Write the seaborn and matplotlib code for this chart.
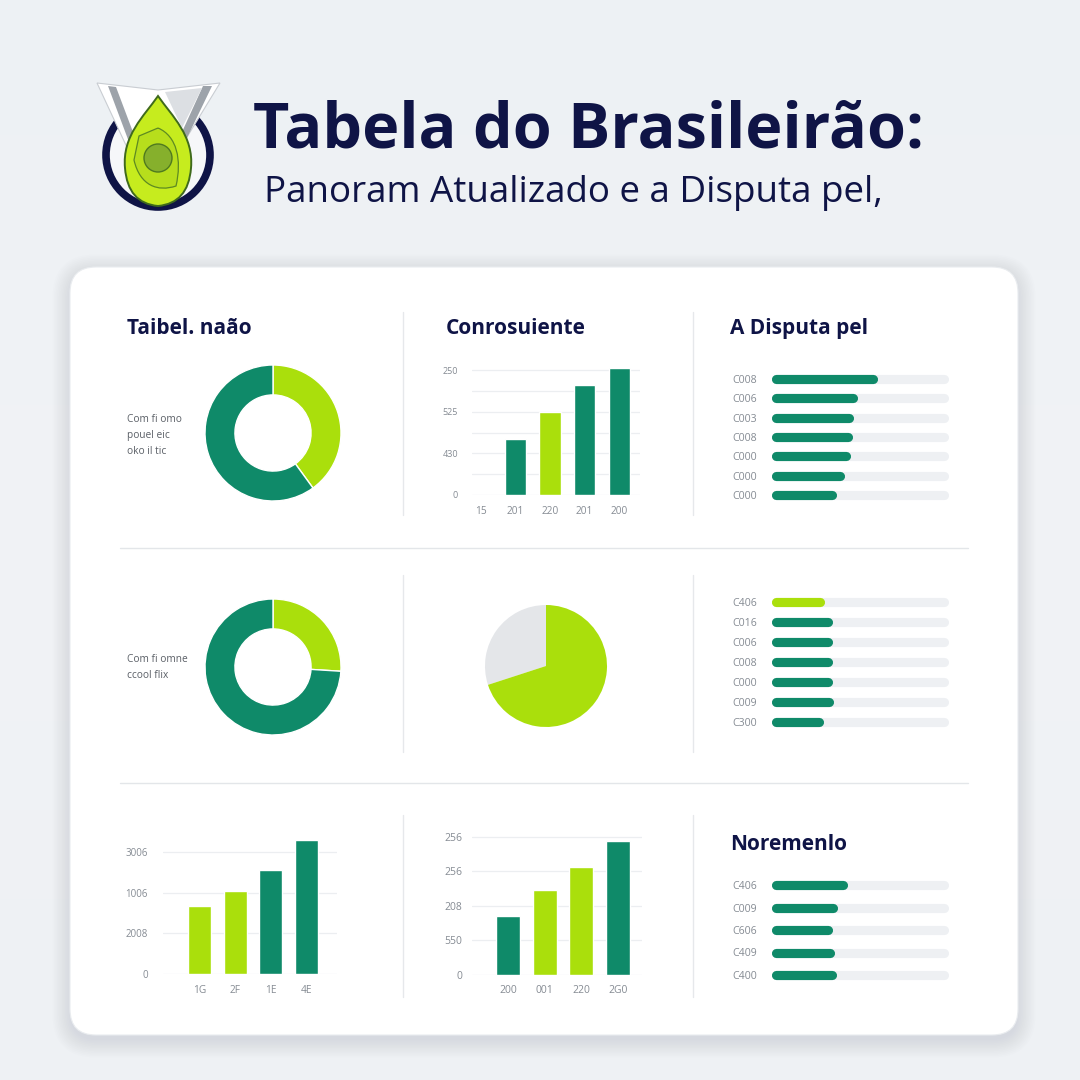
import numpy as np
import matplotlib
matplotlib.use('Agg')
import matplotlib.pyplot as plt
import seaborn as sns
from matplotlib.patches import FancyBboxPatch, Circle, Polygon, PathPatch
from matplotlib.path import Path

# data
title = 'Tabela do Brasileirão:'
subtitle = 'Panoram Atualizado e a Disputa pel,'

donut1_vals = [0.40, 0.60]
donut1_note = ['Com fi omo', 'pouel eic', 'oko il tic']
donut2_vals = [0.26, 0.74]
donut2_note = ['Com fi omne', 'ccool flix']
pie_vals = [0.30, 0.70]

top_bar_cats = ['15', '201', '220', '201', '200']
top_bar_vals = [0, 2.7, 4.0, 5.3, 6.1]
top_bar_ticks = ['0', '', '430', '', '525', '', '250']

bl_bar_cats = ['1G', '2F', '1E', '4E']
bl_bar_vals = [1.67, 2.04, 2.56, 3.29]
bl_bar_ticks = ['0', '2008', '1006', '3006']

bm_bar_cats = ['200', '001', '220', '2G0']
bm_bar_vals = [1.71, 2.46, 3.13, 3.88]
bm_bar_ticks = ['0', '550', '208', '256', '256']

prog1_labels = ['C008', 'C006', 'C003', 'C008', 'C000', 'C000', 'C000']
prog1_vals = [0.583, 0.464, 0.435, 0.429, 0.417, 0.381, 0.339]
prog2_labels = ['C406', 'C016', 'C006', 'C008', 'C000', 'C009', 'C300']
prog2_vals = [0.262, 0.310, 0.315, 0.315, 0.310, 0.321, 0.256]
prog3_labels = ['C406', 'C009', 'C606', 'C409', 'C400']
prog3_vals = [0.399, 0.345, 0.315, 0.327, 0.339]

panel_titles = ['Taibel. naão', 'Conrosuiente', 'A Disputa pel', 'Noremenlo']

# colours
NAVY = '#0f1446'
GREEN = '#0f8a69'
LIME = '#aadf0c'
TRACK = '#eef0f3'
GRAYPIE = '#e4e6e9'
TICK = '#858b93'
SEP = '#e6e8eb'

sns.set_style('white')
plt.rcParams['font.family'] = ['Open Sans', 'DejaVu Sans']

W = H = 1080
fig = plt.figure(figsize=(10.8, 10.8), dpi=100)


def px_axes(x0, y0, x1, y1):
    ax = fig.add_axes([x0 / W, 1 - y1 / H, (x1 - x0) / W, (y1 - y0) / H])
    ax.set_facecolor('none')
    return ax


# background layer in pixel coords
bg = fig.add_axes([0, 0, 1, 1])
bg.set_xlim(0, W)
bg.set_ylim(H, 0)
bg.axis('off')
grad = np.linspace(0, 1, 256).reshape(-1, 1)
bg.imshow(grad, extent=(0, W, H, 0), cmap=matplotlib.colors.LinearSegmentedColormap.from_list(
    'bgc', ['#edf1f4', '#f1f3f6', '#eef1f4']), aspect='auto', zorder=0)

# card with soft shadow
for i in range(12):
    bg.add_patch(FancyBboxPatch((70 - i * 1.6, 272 - i * 1.6), 948 + i * 3.2, 768 + i * 3.2,
                                boxstyle=f'round,pad=0,rounding_size={26 + i * 1.6}',
                                fc='#8f9aa6', ec='none', alpha=0.016, zorder=1))
bg.add_patch(FancyBboxPatch((70, 267), 948, 768, boxstyle='round,pad=0,rounding_size=26',
                            fc='white', ec='#e9ecef', lw=0.8, zorder=2))

# separators
for x in (403, 693):
    for y0, y1 in ((312, 515), (575, 752), (815, 997)):
        bg.plot([x, x], [y0, y1], color=SEP, lw=1, zorder=3)
for y in (548, 783):
    bg.plot([120, 968], [y, y], color='#e3e6e9', lw=1, zorder=3)

# logo
bg.add_patch(Circle((158, 155), 52, fc='#f6f7f9', ec=NAVY, lw=5.5, zorder=3))
bg.add_patch(Polygon([(97, 83), (158, 90), (220, 83), (184, 142), (158, 150), (131, 156)],
                     closed=True, fc='white', ec='#c9cdd2', lw=0.8, zorder=4))
bg.add_patch(Polygon([(108, 86), (116, 87), (136, 140), (132, 150)], fc='#9da3aa', ec='none', zorder=4))
bg.add_patch(Polygon([(203, 86), (212, 86), (186, 140), (182, 132)], fc='#9da3aa', ec='none', zorder=4))
bg.add_patch(Polygon([(165, 92), (202, 88), (182, 128)], fc='#dcdfe3', ec='none', zorder=4))
drop = Path([(158, 96), (172, 116), (194, 136), (191, 168), (189, 192), (178, 204), (158, 206),
             (138, 204), (127, 192), (125, 168), (122, 136), (144, 116), (158, 96), (158, 96)],
            [Path.MOVETO] + [Path.CURVE4] * 12 + [Path.CLOSEPOLY])
bg.add_patch(PathPatch(drop, fc='#c6ec1e', ec='#3f6a1c', lw=1.4, zorder=5))
inner = Path([(158, 128), (177, 136), (182, 160), (176, 186), (158, 192), (140, 186),
              (134, 160), (139, 136), (158, 128), (158, 128)],
             [Path.MOVETO] + [Path.CURVE4] * 6 + [Path.LINETO, Path.CURVE3, Path.CLOSEPOLY])
bg.add_patch(PathPatch(inner, fc='#b7de1c', ec='#5e8a22', lw=0.9, zorder=5))
bg.add_patch(Circle((158, 158), 14, fc='#86b02c', ec='#4f7a1f', lw=1, zorder=6))

# header
bg.text(253, 148, title, fontsize=45.3, fontweight='bold', color=NAVY, va='baseline', zorder=5)
bg.text(264, 202, subtitle, fontsize=26.5, color=NAVY, va='baseline', zorder=5)

# panel titles
for (x, y), t in zip([(127, 334), (446, 334), (730, 334), (730, 850)], panel_titles):
    bg.text(x, y, t, fontsize=15, fontweight='bold', color=NAVY, va='baseline', zorder=5)

for i, line in enumerate(donut1_note):
    bg.text(127, 420 + i * 15.5, line, fontsize=7.3, color='#5a5f66', va='center', zorder=5)
for i, line in enumerate(donut2_note):
    bg.text(127, 660 + i * 15.5, line, fontsize=7.3, color='#5a5f66', va='center', zorder=5)


def donut(cx, cy, r, vals, colors, width=None, counterclock=False):
    ax = px_axes(cx - r, cy - r, cx + r, cy + r)
    props = dict(edgecolor='white', linewidth=1)
    if width:
        props['width'] = width
    ax.pie(vals, colors=colors, startangle=90, counterclock=counterclock, radius=1,
           wedgeprops=props)
    ax.set_xlim(-1, 1)
    ax.set_ylim(-1, 1)
    ax.set_aspect('equal')
    return ax


donut(273, 433, 68, donut1_vals, [LIME, GREEN], width=0.44)
donut(273, 667, 68, donut2_vals, [LIME, GREEN], width=0.44)
pax = donut(546, 666, 61, pie_vals, [GRAYPIE, LIME], counterclock=True)
for w in pax.patches:
    w.set_edgecolor('none')


def bar_panel(box, cats, vals, colors, ylim, xlim, yticks, ylabels, width,
              ysize, xsize, ypad, xpad):
    ax = px_axes(*box)
    idx = list(range(len(cats)))
    keys = [f'k{i}' for i in idx]
    sns.barplot(x=idx, y=vals, hue=keys, palette=dict(zip(keys, colors)), dodge=False,
                width=width, saturation=1, legend=False, ax=ax)
    ax.set_xlim(*xlim)
    ax.set_ylim(*ylim)
    ax.set_xticks(idx)
    ax.set_xticklabels(cats)
    ax.set_yticks(yticks)
    ax.set_yticklabels(ylabels)
    ax.set_xlabel('')
    ax.set_ylabel('')
    ax.yaxis.grid(True, color='#eceef1', lw=0.9)
    ax.set_axisbelow(True)
    sns.despine(ax=ax, left=True, bottom=True)
    ax.tick_params(axis='y', length=0, labelsize=ysize, labelcolor=TICK, pad=ypad)
    ax.tick_params(axis='x', length=0, labelsize=xsize, labelcolor=TICK, pad=xpad)
    return ax


bar_panel((472, 360, 640, 495), top_bar_cats, top_bar_vals, [GREEN, GREEN, LIME, GREEN, GREEN],
          (0, 6.49), (-0.26, 4.6), range(7), top_bar_ticks, 0.62, 6.5, 7.3, 10, 8)
bar_panel((163, 830, 337, 974), bl_bar_cats, bl_bar_vals, [LIME, LIME, GREEN, GREEN],
          (0, 3.54), (-1.04, 3.86), range(4), bl_bar_ticks, 0.65, 7, 7.3, 11, 8)
bar_panel((472, 830, 642, 975), bm_bar_cats, bm_bar_vals, [GREEN, LIME, LIME, GREEN],
          (0, 4.2), (-0.98, 3.65), range(5), bm_bar_ticks, 0.65, 7.5, 7.5, 7, 7)


def prog_panel(y_first, y_last, labels, vals, colors):
    n = len(labels)
    step = (y_last - y_first) / (n - 1)
    ax = px_axes(775.5, y_first - step / 2, 943.5, y_last + step / 2)
    rows = np.arange(n)
    ax.hlines(rows, 0, 1, colors=TRACK, lw=6.6, capstyle='round', clip_on=False)
    ax.hlines(rows, 0, vals, colors=colors, lw=6.6, capstyle='round', clip_on=False)
    ax.set_xlim(0, 1)
    ax.set_ylim(n - 0.5, -0.5)
    ax.set_xticks([])
    ax.set_yticks(rows)
    ax.set_yticklabels(labels)
    sns.despine(ax=ax, left=True, bottom=True)
    ax.tick_params(axis='y', length=0, labelsize=7.6, labelcolor=TICK, pad=13)
    return ax


prog_panel(379, 495, prog1_labels, prog1_vals, [GREEN] * 7)
prog_panel(602, 722, prog2_labels, prog2_vals, [LIME] + [GREEN] * 6)
prog_panel(885, 975, prog3_labels, prog3_vals, [GREEN] * 5)

fig.savefig('out.png', dpi=100)
